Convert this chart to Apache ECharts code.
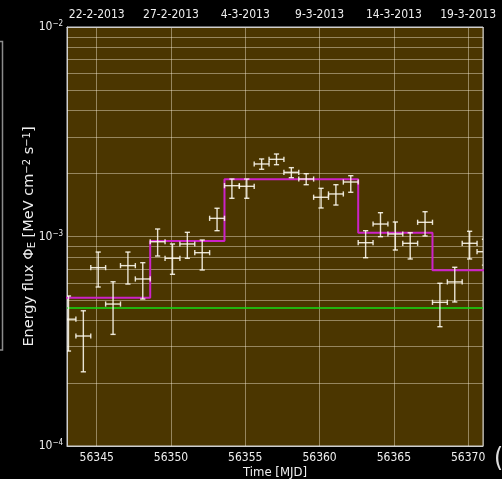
<!DOCTYPE html>
<html>
<head>
<meta charset="utf-8">
<script src="https://cdn.jsdelivr.net/npm/echarts@6.0.0/dist/echarts.min.js"></script>
<style>
  html, body { margin: 0; padding: 0; background: #000; }
  #chart { width: 502px; height: 479px; }
</style>
</head>
<body>
<div id="chart"></div>
<script>
// Daily light-curve bins (MJD centre), energy flux and its 1-sigma bounds
const timeMjd = [
  56343.1, 56344.1, 56345.1, 56346.1, 56347.1, 56348.1, 56349.1, 56350.1,
  56351.1, 56352.1, 56353.1, 56354.1, 56355.1, 56356.1, 56357.1, 56358.1,
  56359.1, 56360.1, 56361.1, 56362.1, 56363.1, 56364.1, 56365.1, 56366.1,
  56367.1, 56368.1, 56369.1, 56370.1, 56371.1
];
const flux = [
  4.03e-4, 3.35e-4, 7.10e-4, 4.76e-4, 7.26e-4, 6.27e-4, 9.44e-4, 7.87e-4,
  9.21e-4, 8.37e-4, 1.221e-3, 1.748e-3, 1.736e-3, 2.219e-3, 2.336e-3, 2.025e-3,
  1.881e-3, 1.539e-3, 1.596e-3, 1.820e-3, 9.34e-4, 1.147e-3, 1.028e-3, 9.28e-4,
  1.169e-3, 4.85e-4, 6.07e-4, 9.28e-4, 8.46e-4
];
const fluxUpper = [
  5.20e-4, 4.42e-4, 8.43e-4, 6.08e-4, 8.43e-4, 7.50e-4, 1.086e-3, 9.21e-4,
  1.047e-3, 9.62e-4, 1.364e-3, 1.881e-3, 1.881e-3, 2.344e-3, 2.476e-3, 2.131e-3,
  1.994e-3, 1.698e-3, 1.767e-3, 1.951e-3, 1.066e-3, 1.299e-3, 1.173e-3, 1.042e-3,
  1.313e-3, 5.98e-4, 7.13e-4, 1.059e-3, 9.70e-4
];
const fluxLower = [
  2.84e-4, 2.26e-4, 5.74e-4, 3.41e-4, 5.93e-4, 5.03e-4, 8.07e-4, 6.60e-4,
  7.87e-4, 6.92e-4, 1.066e-3, 1.522e-3, 1.522e-3, 2.094e-3, 2.202e-3, 1.909e-3,
  1.767e-3, 1.368e-3, 1.413e-3, 1.626e-3, 7.92e-4, 9.98e-4, 8.62e-4, 7.81e-4,
  1.006e-3, 3.71e-4, 4.87e-4, 7.81e-4, 7.30e-4
];
const binHalfWidth = 0.5; // days

// Bayesian-block segmentation: edges (MJD) and block levels
const blockEdges = [56342.6, 56348.6, 56353.6, 56362.6, 56367.6, 56371.6];
const blockFlux = [5.10e-4, 9.52e-4, 1.875e-3, 1.042e-3, 6.90e-4];

// Mean flux over the whole period
const meanFlux = 4.56e-4;

// Axis ranges and tick labels
const timeRange = [56343, 56371];
const fluxRange = [1e-4, 1e-2];
const dateTickMjd = [56345, 56350, 56355, 56360, 56365, 56370];
const dateTickLabels = ['22-2-2013', '27-2-2013', '4-3-2013', '9-3-2013', '14-3-2013', '19-3-2013'];
const minorFluxTicks = [
  2e-4, 3e-4, 4e-4, 5e-4, 6e-4, 7e-4, 8e-4, 9e-4,
  2e-3, 3e-3, 4e-3, 5e-3, 6e-3, 7e-3, 8e-3, 9e-3
];

const labelFont = '"DejaVu Sans Condensed", "DejaVu Sans", sans-serif';
const nameFont = '"DejaVu Sans", sans-serif';
const gridColor = 'rgba(255,245,225,0.42)';
const spineColor = '#cfcfcf';
const textColor = '#eeeeee';

const errorData = timeMjd.map((t, i) => [t, flux[i], fluxLower[i], fluxUpper[i]]);

const stepData = [];
blockFlux.forEach((v, i) => {
  stepData.push([blockEdges[i], v]);
  stepData.push([blockEdges[i + 1], v]);
});

const minorGridData = minorFluxTicks.map(v => [timeRange[0], v]);

function renderErrorBar(params, api) {
  const t = api.value(0), f = api.value(1), lo = api.value(2), hi = api.value(3);
  const c = api.coord([t, f]);
  const l = api.coord([t - binHalfWidth, f]);
  const r = api.coord([t + binHalfWidth, f]);
  const b = api.coord([t, lo]);
  const u = api.coord([t, hi]);
  const cap = 2.6;
  const st = { stroke: 'rgba(255,252,240,0.88)', lineWidth: 1.4 };
  const seg = (x1, y1, x2, y2) => ({ type: 'line', shape: { x1, y1, x2, y2 }, style: st });
  const cs = params.coordSys;
  return {
    type: 'group',
    clipPath: { type: 'rect', shape: { x: cs.x, y: cs.y, width: cs.width, height: cs.height } },
    children: [
      seg(l[0], c[1], r[0], c[1]),
      seg(c[0], b[1], c[0], u[1]),
      seg(c[0] - cap, b[1], c[0] + cap, b[1]),
      seg(c[0] - cap, u[1], c[0] + cap, u[1]),
      seg(l[0], c[1] - cap, l[0], c[1] + cap),
      seg(r[0], c[1] - cap, r[0], c[1] + cap)
    ]
  };
}

// Horizontal grid line across the plot at a minor log tick
function renderMinorGrid(params, api) {
  const p = api.coord([api.value(0), api.value(1)]);
  const cs = params.coordSys;
  const y = Math.round(p[1]) + 0.5;
  return {
    type: 'line',
    silent: true,
    shape: { x1: cs.x, y1: y, x2: cs.x + cs.width, y2: y },
    style: { stroke: gridColor, lineWidth: 1 }
  };
}

function powerLabel(v) {
  const e = Math.round(Math.log10(v));
  return '{b|10}{s|' + (e < 0 ? '\u2212' + (-e) : e) + '}';
}

const chart = echarts.init(document.getElementById('chart'), null, { renderer: 'canvas' });

chart.setOption({
  backgroundColor: '#000000',
  animation: false,
  grid: {
    left: 67, right: 19, top: 27, bottom: 33,
    outerBoundsMode: 'none',
    containLabel: false,
    show: true, backgroundColor: '#4b3600',
    borderColor: spineColor, borderWidth: 1
  },
  xAxis: [
    {
      type: 'value', position: 'bottom',
      min: timeRange[0], max: timeRange[1],
      name: 'Time [MJD]', nameLocation: 'middle', nameGap: 20,
      nameMoveOverlap: false,
      nameTextStyle: { color: textColor, fontFamily: labelFont, fontSize: 13 },
      axisLine: { show: true, lineStyle: { color: spineColor, width: 1 } },
      axisTick: { show: false },
      axisLabel: {
        color: textColor, fontFamily: labelFont, fontSize: 12, margin: 6,
        showMinLabel: false, showMaxLabel: false,
        formatter: v => String(v)
      },
      splitLine: { show: true, lineStyle: { color: gridColor, width: 1 } }
    },
    {
      type: 'value', position: 'top',
      min: timeRange[0], max: timeRange[1],
      axisLine: { show: true, lineStyle: { color: spineColor, width: 1 } },
      axisTick: { show: false },
      axisLabel: {
        color: textColor, fontFamily: labelFont, fontSize: 12, margin: 6,
        showMinLabel: false, showMaxLabel: false,
        formatter: v => {
          const i = dateTickMjd.indexOf(Math.round(v));
          return i >= 0 ? dateTickLabels[i] : '';
        }
      },
      splitLine: { show: false }
    }
  ],
  yAxis: {
    type: 'log', logBase: 10,
    min: fluxRange[0], max: fluxRange[1],
    name: '{n|Energy flux \u03a6}{sub|E}{n| [MeV cm}{sup|\u22122}{n| s}{sup|\u22121}{n|]}',
    nameLocation: 'middle', nameRotate: 90, nameGap: 30,
    nameMoveOverlap: false,
    nameTextStyle: {
      color: textColor, fontFamily: nameFont,
      rich: {
        n: { color: textColor, fontFamily: nameFont, fontSize: 14.5 },
        sub: { color: textColor, fontFamily: nameFont, fontSize: 10, verticalAlign: 'bottom', padding: [4, 0, 0, 0] },
        sup: { color: textColor, fontFamily: nameFont, fontSize: 10, verticalAlign: 'top', padding: [0, 0, 5, 0] }
      }
    },
    axisLine: { show: true, lineStyle: { color: spineColor, width: 1 } },
    axisTick: { show: false },
    axisLabel: {
      margin: 4,
      formatter: powerLabel,
      rich: {
        b: { color: textColor, fontFamily: labelFont, fontSize: 12 },
        s: { color: textColor, fontFamily: labelFont, fontSize: 8, verticalAlign: 'top', padding: [0, 0, 6, 0] }
      }
    },
    splitLine: { show: true, lineStyle: { color: gridColor, width: 1 } }
  },
  series: [
    {
      name: 'minor grid',
      type: 'custom',
      data: minorGridData,
      renderItem: renderMinorGrid,
      silent: true,
      z: 1
    },
    {
      name: 'mean',
      type: 'line',
      data: [[timeRange[0], meanFlux], [timeRange[1], meanFlux]],
      symbol: 'none',
      lineStyle: { color: '#14e014', width: 1.6 },
      z: 3
    },
    {
      name: 'blocks',
      type: 'line',
      data: stepData,
      symbol: 'none',
      clip: true,
      lineStyle: { color: '#cc22c8', width: 2 },
      z: 4
    },
    {
      name: 'flux',
      type: 'custom',
      data: errorData,
      renderItem: renderErrorBar,
      clip: true,
      z: 5
    }
  ],
  graphic: [
    {
      type: 'rect', silent: true,
      shape: { x: -20, y: 41.5, width: 22.5, height: 308.5 },
      style: { fill: 'none', stroke: '#8c8c8c', lineWidth: 1.5 }
    },
    {
      type: 'text', silent: true, x: 494, y: 446,
      style: { text: '(', fill: '#dddddd', fontSize: 26, fontFamily: labelFont }
    }
  ]
});
</script>
</body>
</html>
